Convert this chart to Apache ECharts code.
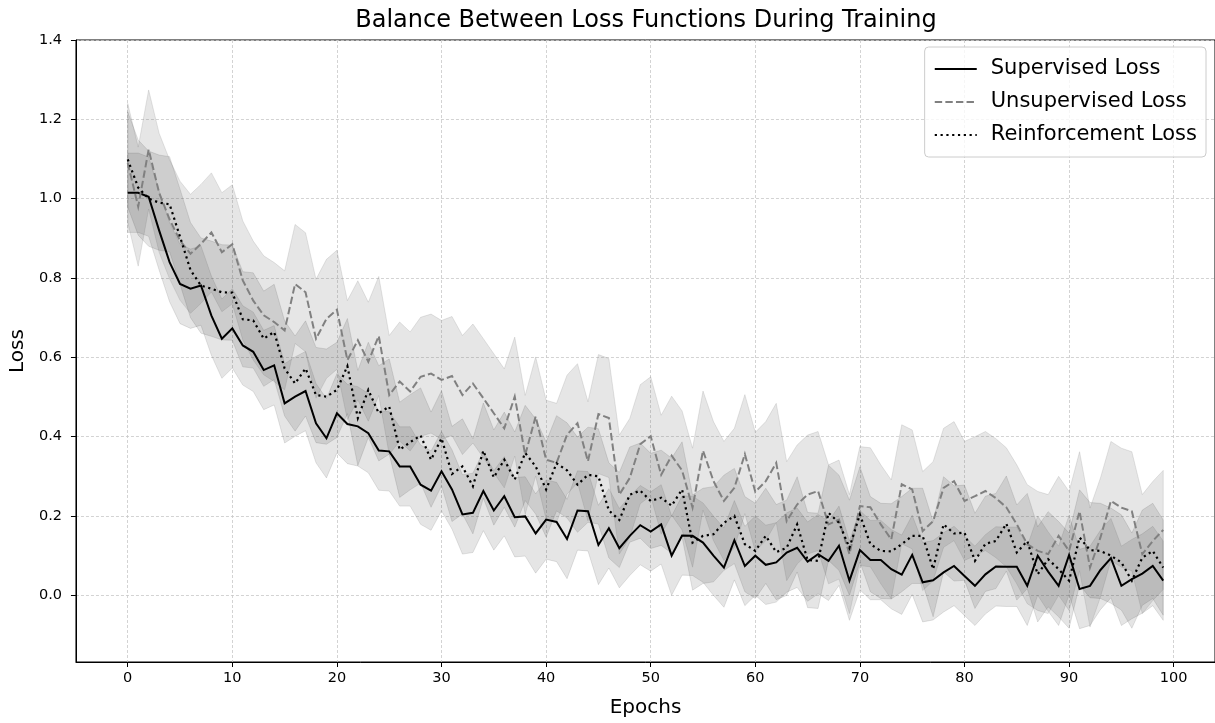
<!DOCTYPE html>
<html>
<head>
<meta charset="utf-8">
<title>Balance Between Loss Functions During Training</title>
<script src="https://cdn.jsdelivr.net/npm/echarts/dist/echarts.min.js"></script>
<style>
  html, body { margin: 0; padding: 0; background: #fff; }
  #chart { width: 1215px; height: 723px; }
</style>
</head>
<body>
<div id="chart"></div>
<script>
// Training epochs
const epochs = Array.from({ length: 100 }, (_, i) => i);

// Mean loss per epoch for each objective
const supervisedLoss = [
  1.015, 1.015, 1.005, 0.920, 0.840, 0.785, 0.773, 0.781, 0.705, 0.647,
  0.673, 0.630, 0.614, 0.568, 0.580, 0.484, 0.501, 0.515, 0.434, 0.396,
  0.459, 0.432, 0.426, 0.409, 0.365, 0.363, 0.325, 0.325, 0.279, 0.264,
  0.313, 0.267, 0.204, 0.208, 0.263, 0.214, 0.250, 0.197, 0.199, 0.156,
  0.191, 0.185, 0.142, 0.214, 0.212, 0.127, 0.169, 0.119, 0.150, 0.177,
  0.161, 0.179, 0.100, 0.151, 0.150, 0.133, 0.100, 0.070, 0.139, 0.074,
  0.100, 0.077, 0.083, 0.108, 0.120, 0.085, 0.104, 0.087, 0.125, 0.037,
  0.114, 0.089, 0.089, 0.066, 0.052, 0.102, 0.033, 0.038, 0.058, 0.074,
  0.049, 0.024, 0.053, 0.073, 0.072, 0.072, 0.024, 0.100, 0.060, 0.024,
  0.102, 0.016, 0.024, 0.064, 0.094, 0.024, 0.041, 0.055, 0.074, 0.037
];

const unsupervisedLoss = [
  1.090, 0.980, 1.124, 1.015, 0.948, 0.894, 0.861, 0.886, 0.915, 0.865,
  0.885, 0.794, 0.743, 0.706, 0.689, 0.668, 0.785, 0.764, 0.647, 0.697,
  0.720, 0.593, 0.643, 0.589, 0.654, 0.505, 0.539, 0.514, 0.551, 0.559,
  0.543, 0.553, 0.505, 0.534, 0.497, 0.459, 0.421, 0.501, 0.354, 0.451,
  0.342, 0.334, 0.405, 0.434, 0.338, 0.457, 0.447, 0.254, 0.296, 0.381,
  0.401, 0.304, 0.352, 0.315, 0.221, 0.365, 0.288, 0.238, 0.271, 0.356,
  0.261, 0.288, 0.334, 0.187, 0.229, 0.254, 0.263, 0.179, 0.191, 0.104,
  0.225, 0.222, 0.179, 0.141, 0.280, 0.267, 0.162, 0.187, 0.271, 0.288,
  0.238, 0.250, 0.263, 0.245, 0.222, 0.179, 0.129, 0.112, 0.104, 0.150,
  0.112, 0.212, 0.070, 0.146, 0.238, 0.221, 0.212, 0.104, 0.137, 0.165
];

const reinforcementLoss = [
  1.099, 1.028, 1.000, 0.990, 0.986, 0.904, 0.820, 0.781, 0.773, 0.764,
  0.763, 0.696, 0.693, 0.647, 0.664, 0.572, 0.534, 0.572, 0.505, 0.501,
  0.518, 0.578, 0.447, 0.518, 0.459, 0.476, 0.367, 0.386, 0.403, 0.342,
  0.396, 0.306, 0.325, 0.275, 0.365, 0.297, 0.342, 0.292, 0.359, 0.325,
  0.267, 0.333, 0.315, 0.279, 0.304, 0.300, 0.214, 0.190, 0.254, 0.264,
  0.238, 0.246, 0.226, 0.267, 0.133, 0.150, 0.154, 0.183, 0.200, 0.129,
  0.112, 0.150, 0.109, 0.120, 0.179, 0.089, 0.087, 0.208, 0.183, 0.120,
  0.204, 0.129, 0.112, 0.111, 0.129, 0.150, 0.150, 0.066, 0.179, 0.156,
  0.158, 0.087, 0.130, 0.137, 0.181, 0.108, 0.137, 0.053, 0.091, 0.066,
  0.037, 0.146, 0.114, 0.112, 0.100, 0.083, 0.037, 0.095, 0.112, 0.070
];

// Standard deviation of each loss (half-width of the shaded band)
const supervisedStd = 0.10;
const unsupervisedStd = 0.15;
const reinforcementStd = 0.12;

const seriesNames = ['Supervised Loss', 'Unsupervised Loss', 'Reinforcement Loss'];
const yTickLabels = [0.0, 0.2, 0.4, 0.6, 0.8, 1.0, 1.2, 1.4];

const FONT = 'DejaVu Sans';

// Shaded band (mean +/- std) as one polygon in data coordinates
function bandSeries(values, std, fill) {
  return {
    type: 'custom',
    silent: true,
    clip: true,
    z: 1,
    data: [[0, 0]],
    encode: { x: 0, y: 1 },
    renderItem: function (params, api) {
      const pts = [];
      for (let i = 0; i < epochs.length; i++) {
        pts.push(api.coord([epochs[i], values[i] + std]));
      }
      for (let i = epochs.length - 1; i >= 0; i--) {
        pts.push(api.coord([epochs[i], values[i] - std]));
      }
      return {
        type: 'polygon',
        shape: { points: pts },
        style: { fill: fill, stroke: fill, lineWidth: 1 }
      };
    }
  };
}

function lineSeries(name, values, color, dash, width) {
  return {
    name: name,
    type: 'line',
    z: 3,
    data: epochs.map((e, i) => [e, values[i]]),
    symbol: 'none',
    showSymbol: false,
    lineStyle: { color: color, width: width, type: dash, cap: 'butt', join: 'miter' },
    itemStyle: { color: color }
  };
}

const chart = echarts.init(document.getElementById('chart'), null, { renderer: 'canvas' });

const axisLineStyle = { color: '#000', width: 1 };
const gridLine = { show: true, lineStyle: { color: '#c8c8c8', width: 0.8, type: [3, 2] } };

chart.setOption({
  animation: false,
  backgroundColor: '#fff',
  textStyle: { fontFamily: FONT },
  grid: {
    left: 75, top: 40, width: 1143, height: 625,
    show: true, borderColor: '#000', borderWidth: 1, backgroundColor: 'transparent'
  },
  graphic: [
    {
      type: 'text', x: 646, y: 21, silent: true,
      style: {
        text: 'Balance Between Loss Functions During Training',
        font: '24px "DejaVu Sans"', fill: '#000',
        textAlign: 'center', textVerticalAlign: 'middle'
      }
    }
  ],
  legend: {
    data: seriesNames,
    orient: 'vertical',
    right: 9, top: 47,
    itemWidth: 42, itemHeight: 22, itemGap: 11,
    padding: [11, 9, 11, 9],
    backgroundColor: 'rgba(255,255,255,0.8)',
    borderColor: '#cccccc', borderWidth: 1, borderRadius: 4,
    itemStyle: { opacity: 0 },
    lineStyle: { width: 2.2 },
    textStyle: { fontFamily: FONT, fontSize: 21, color: '#000', padding: [0, 0, 0, 9], lineHeight: 22 },
    selectedMode: false
  },
  xAxis: {
    type: 'value',
    min: -4.95, max: 103.95,
    splitNumber: 10,
    name: 'Epochs', nameLocation: 'middle', nameGap: 36,
    nameTextStyle: { fontFamily: FONT, fontSize: 20, color: '#000' },
    axisLine: { show: true, onZero: false, lineStyle: axisLineStyle },
    axisTick: { show: true, length: 5, lineStyle: axisLineStyle },
    axisLabel: {
      fontFamily: FONT, fontSize: 14.5, color: '#000', margin: 9,
      showMinLabel: false, showMaxLabel: false,
      formatter: v => String(Math.round(v))
    },
    splitLine: gridLine
  },
  yAxis: {
    type: 'value',
    min: -0.168, max: 1.4,
    splitNumber: 8,
    name: 'Loss', nameLocation: 'middle', nameGap: 47, nameRotate: 90,
    nameTextStyle: { fontFamily: FONT, fontSize: 20, color: '#000' },
    axisLine: { show: true, onZero: false, lineStyle: axisLineStyle },
    axisTick: { show: true, length: 5, lineStyle: axisLineStyle },
    axisLabel: {
      fontFamily: FONT, fontSize: 14.5, color: '#000', margin: 14,
      showMinLabel: false,
      formatter: v => {
        const hit = yTickLabels.find(t => Math.abs(t - v) < 1e-6);
        return hit === undefined ? '' : hit.toFixed(1);
      }
    },
    splitLine: gridLine
  },
  series: [
    bandSeries(supervisedLoss, supervisedStd, 'rgba(0,0,0,0.1)'),
    bandSeries(unsupervisedLoss, unsupervisedStd, 'rgba(128,128,128,0.2)'),
    bandSeries(reinforcementLoss, reinforcementStd, 'rgba(0,0,0,0.1)'),
    lineSeries(seriesNames[0], supervisedLoss, '#000000', 'solid', 2),
    lineSeries(seriesNames[1], unsupervisedLoss, '#808080', [7.4, 3.2], 2),
    lineSeries(seriesNames[2], reinforcementLoss, '#000000', [2.2, 3.6], 2.2)
  ]
});
</script>
</body>
</html>
